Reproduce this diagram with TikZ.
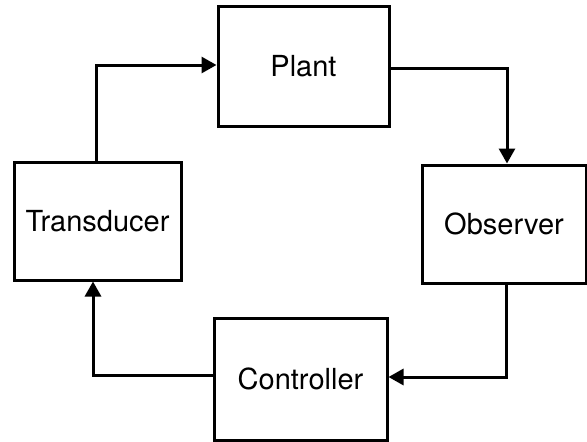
\documentclass[tikz,border=0pt]{standalone}
\usepackage{fontspec}
\setmainfont{TeX Gyre Heros}
\usetikzlibrary{arrows.meta}
\begin{document}
\begin{tikzpicture}[x=1pt,y=-1pt,
  block/.style={draw, line width=3pt, inner sep=0pt, font=\fontsize{29}{35}\selectfont},
  link/.style={line width=3pt, -{Triangle[length=15pt,width=16pt]}}]
\useasboundingbox (0,0) rectangle (587,442);
% the four blocks of the loop
\node[block, minimum width=171pt, minimum height=120pt] (plant) at (303.5,66) {Plant};
\node[block, minimum width=164pt, minimum height=118pt] (obs) at (504,224) {Observer};
\node[block, minimum width=173pt, minimum height=122pt] (ctrl) at (300.5,379) {Controller};
\node[block, minimum width=167pt, minimum height=118pt] (trans) at (97.5,221) {Transducer};
% corner points of the connectors
\coordinate (c1) at (96,65);
\coordinate (c2) at (507,68);
\coordinate (c3) at (506,377);
\coordinate (c4) at (93,375);
% connectors
\draw[link] (trans.north -| c1) -- (c1) -- (plant.west |- c1);
\draw[link] (plant.east |- c2) -- (c2) -- (obs.north -| c2);
\draw[link] (obs.south -| c3) -- (c3) -- (ctrl.east |- c3);
\draw[link] (ctrl.west |- c4) -- (c4) -- (trans.south -| c4);
\end{tikzpicture}
\end{document}
